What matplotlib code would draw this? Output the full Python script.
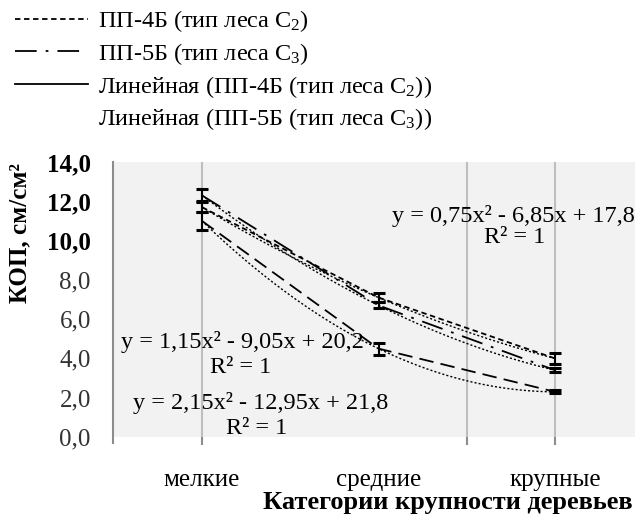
import matplotlib
matplotlib.use("Agg")
import matplotlib.pyplot as plt
from matplotlib.lines import Line2D
import numpy as np

plt.rcParams['font.family'] = ['Liberation Serif', 'DejaVu Serif']
plt.rcParams['mathtext.fontset'] = 'custom'
plt.rcParams['mathtext.rm'] = 'Liberation Serif'
plt.rcParams['mathtext.it'] = 'Liberation Serif:italic'

categories = ["мелкие", "средние", "крупные"]
x_pos = [1, 2, 3]
s1_name = "ПП-4Б (тип леса C$_2$)"
s2_name = "ПП-5Б (тип леса C$_3$)"
trend1_name = "Линейная (ПП-4Б (тип леса C$_2$))"
trend2_name = "Линейная (ПП-5Б (тип леса C$_3$))"
s1_vals = [11.7, 7.1, 4.0]
s2_vals = [12.3, 6.7, 3.4]
s3_vals = [11.0, 4.5, 2.3]
s1_err = [0.25, 0.25, 0.3]
s2_err = [0.3, 0.15, 0.1]
s3_err = [0.45, 0.3, 0.07]
y_ticks = [0, 2, 4, 6, 8, 10, 12, 14]
y_tick_labels = ["0,0", "2,0", "4,0", "6,0", "8,0", "10,0", "12,0", "14,0"]
eq1 = "y = 0,75x² - 6,85x + 17,8"
eq2 = "y = 1,15x² - 9,05x + 20,2"
eq3 = "y = 2,15x² - 12,95x + 21,8"
r2 = "R² = 1"
ylabel = "КОП, см/см²"
xlabel = "Категории крупности деревьев"

W, H = 635, 515
fig = plt.figure(figsize=(W / 100, H / 100), dpi=100)
ax = fig.add_axes([113 / W, (H - 437) / H, (W - 113) / W, (437 - 162) / H])
ax.set_facecolor('#f2f2f2')
ax.set_xlim(0.496, 3.453)
ax.set_ylim(0, 14)

for s in ['top', 'right', 'bottom']:
    ax.spines[s].set_visible(False)
ax.spines['left'].set_color('#8c8c8c')
ax.spines['left'].set_linewidth(1.5)
ax.spines['left'].set_bounds(-0.3, 14)

# y ticks
ax.set_yticks(y_ticks)
ax.set_yticklabels(y_tick_labels)
ax.tick_params(axis='y', which='major', length=0, pad=16, labelsize=18)
ax.set_yticks([8, 10, 12, 14], minor=True)
ax.tick_params(axis='y', which='minor', length=6, width=1.5, color='#8c8c8c')
ax.yaxis.grid(True, which='minor', color='#bfbfbf', linewidth=1.5)
for lab in ax.get_yticklabels():
    if lab.get_text() in ("10,0", "12,0", "14,0"):
        lab.set_fontweight('bold')
    else:
        lab.set_color('#333333')

# x ticks
ax.xaxis.remove_overlapping_locs = False
ax.set_xticks([1, 2.5, 3])
ax.set_xticklabels([])
ax.tick_params(axis='x', which='major', length=6, width=1.5, color='#8c8c8c')
ax.xaxis.grid(True, which='major', color='#bfbfbf', linewidth=1.5)
ax.set_xticks(x_pos, minor=True)
ax.set_xticklabels(categories, minor=True)
ax.tick_params(axis='x', which='minor', length=0, pad=23, labelsize=18)
ax.set_axisbelow(True)

xs = np.linspace(1, 3, 100)
def trend(vals):
    c = np.polyfit(x_pos, vals, 2)
    return np.polyval(c, xs)

dash1 = (3, 2)
dash2 = (12, 5, 1.5, 5)
ax.plot(x_pos, s1_vals, color='black', lw=1.3, dashes=dash1)
ax.plot(x_pos, s2_vals, color='black', lw=1.3, dashes=dash2)
ax.plot(x_pos, s3_vals, color='black', lw=1.3, dashes=(8, 4))
ax.plot(xs, trend(s1_vals), color='black', lw=1.0, dashes=(1.5, 1.5))
ax.plot(xs, trend(s2_vals), color='black', lw=1.0, dashes=(1.5, 1.5))
ax.plot(xs, trend(s3_vals), color='black', lw=1.0, dashes=(1.5, 1.5))
for vals, err in ((s1_vals, s1_err), (s2_vals, s2_err), (s3_vals, s3_err)):
    ax.errorbar(x_pos, vals, yerr=err, fmt='none', ecolor='black',
                elinewidth=1.5, capsize=4, capthick=2.2)

# equations
eq_fs = 17.5
ax.text(3.453, 11.25, eq1, ha='right', va='center', fontsize=eq_fs)
ax.text(2.77, 10.14, r2, ha='center', va='center', fontsize=eq_fs)
ax.text(0.54, 4.85, eq2, ha='left', va='center', fontsize=eq_fs)
ax.text(1.22, 3.55, r2, ha='center', va='center', fontsize=eq_fs)
ax.text(0.61, 1.75, eq3, ha='left', va='center', fontsize=eq_fs)
ax.text(1.31, 0.45, r2, ha='center', va='center', fontsize=eq_fs)

fig.text(20 / W, 1 - 233 / H, ylabel, rotation=90, ha='center', va='center',
         fontsize=18, fontweight='bold')
fig.text(633 / W, 1 - 502 / H, xlabel, ha='right', va='center',
         fontsize=19, fontweight='bold')

handles = [Line2D([], [], color='black', lw=1.3, dashes=dash1),
           Line2D([], [], color='black', lw=1.3, dashes=dash2),
           Line2D([], [], color='black', lw=1.3),
           Line2D([], [], color='none', lw=1.3)]
labels = [s1_name, s2_name, trend1_name, trend2_name]
fig.legend(handles, labels, loc='upper left', bbox_to_anchor=(8 / W, 1 - 1 / H),
           frameon=False, fontsize=17.5, handlelength=3.0, handletextpad=0.4,
           labelspacing=0.28, borderaxespad=0, borderpad=0.3)

fig.savefig("out.png", dpi=100)
